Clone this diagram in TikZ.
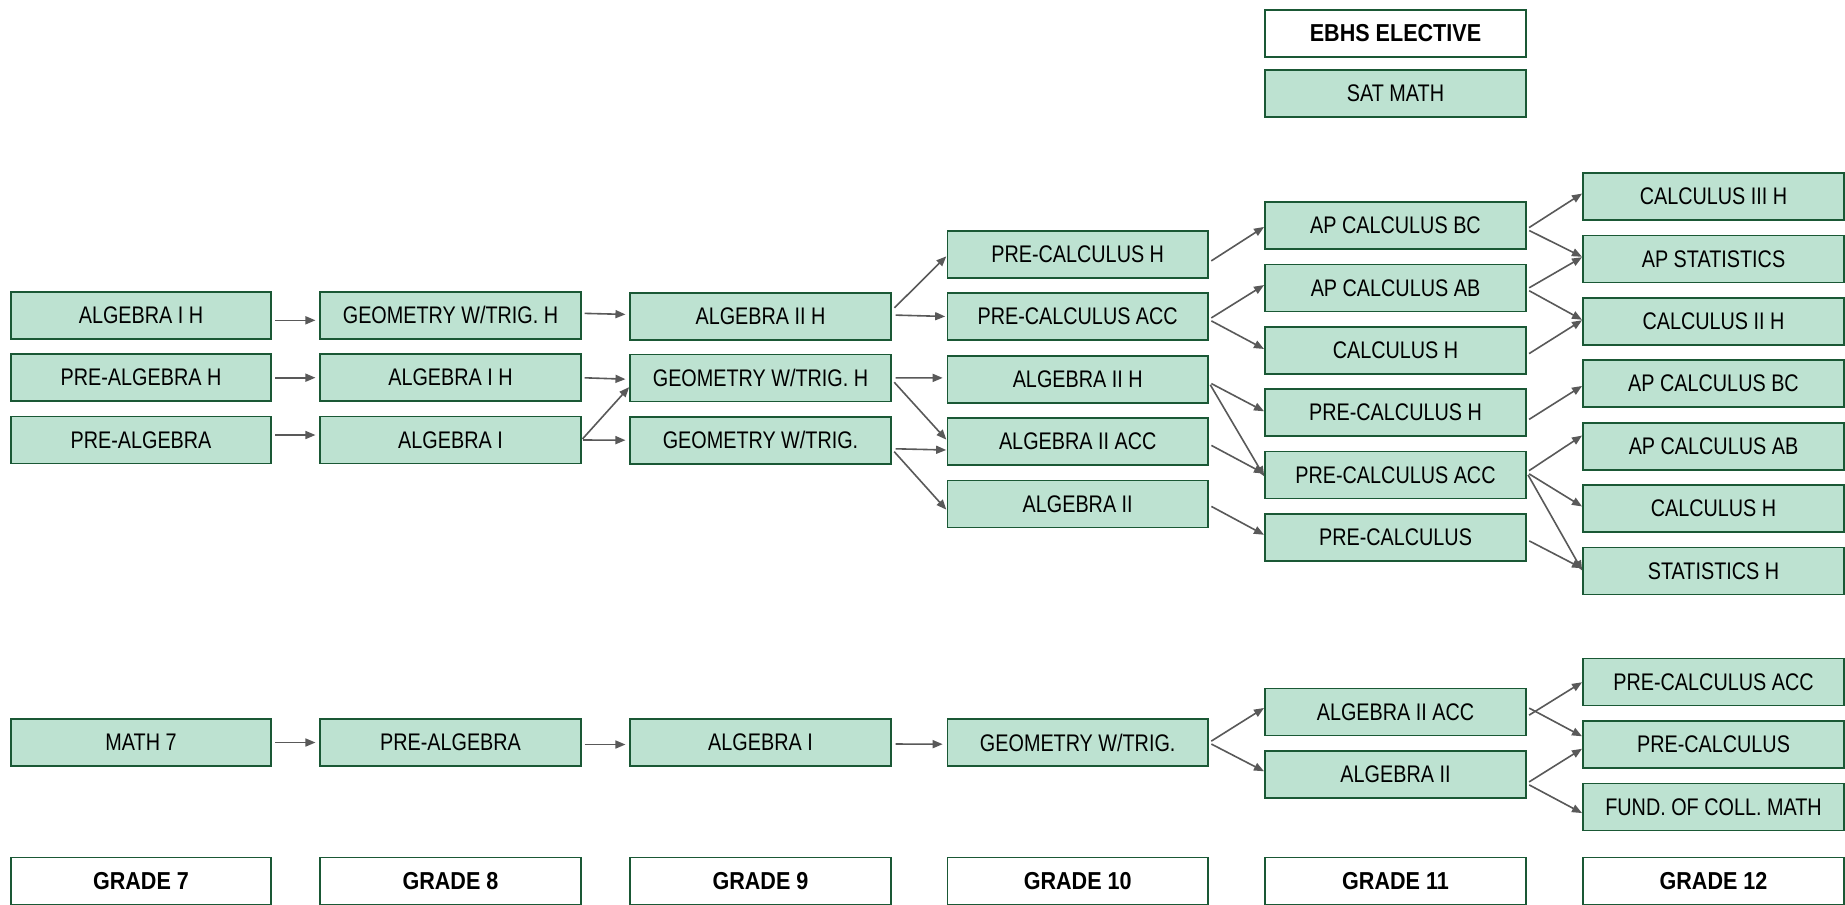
\documentclass[tikz,border=0pt]{standalone}
\usepackage{fontspec}
\usetikzlibrary{arrows.meta}
\newfontfamily\normfont{Liberation Sans}[FakeStretch=0.825]
\newfontfamily\headfont{Liberation Sans}[FakeStretch=0.88]
\definecolor{boxfill}{HTML}{BDE2D1}
\definecolor{bord}{HTML}{1A5835}
\definecolor{arrc}{HTML}{595959}
\tikzset{
  box/.style={draw=bord, fill=boxfill, line width=1.6pt, minimum width=260.5pt, minimum height=47pt, inner sep=0pt, text=black, font={\normfont\fontsize{24pt}{27pt}\selectfont}},
  headbox/.style={box, fill=white, font={\headfont\bfseries\fontsize{24.5pt}{27pt}\selectfont}},
  arr/.style={draw=arrc, line width=1.6pt, -{Triangle[length=10pt,width=8pt]}, shorten <=3pt, shorten >=0.5pt},
  harr/.style={arr, shorten >=4pt}
}
\begin{document}
\begin{tikzpicture}[x=1pt,y=1pt]
\useasboundingbox (0,0) rectangle (1845,-905);
\clip (0,0) rectangle (1845,-905);
\fill[white] (0,0) rectangle (1845,-905);
% header
\node[headbox] (eb) at (1395.5,-33.3) {EBHS ELECTIVE};
\node[box] (sat) at (1395.5,-93.3) {SAT MATH};
% column 1
\node[box] (a1) at (141,-315.3) {ALGEBRA I H};
\node[box] (a2) at (141,-377.7) {PRE-ALGEBRA H};
\node[box] (a3) at (141,-440) {PRE-ALGEBRA};
\node[box] (a4) at (141,-742.5) {MATH 7};
% column 2
\node[box] (b1) at (450.5,-315.3) {GEOMETRY W/TRIG. H};
\node[box] (b2) at (450.5,-377.7) {ALGEBRA I H};
\node[box] (b3) at (450.5,-440) {ALGEBRA I};
\node[box] (b4) at (450.5,-742.5) {PRE-ALGEBRA};
% column 3
\node[box] (c1) at (760.5,-316.5) {ALGEBRA II H};
\node[box] (c2) at (760.5,-377.8) {GEOMETRY W/TRIG. H};
\node[box] (c3) at (760.5,-440.2) {GEOMETRY W/TRIG.};
\node[box] (c4) at (760.5,-742.5) {ALGEBRA I};
% column 4
\node[box] (d1) at (1077.7,-254.5) {PRE-CALCULUS H};
\node[box] (d2) at (1077.7,-316.5) {PRE-CALCULUS ACC};
\node[box] (d3) at (1077.7,-379.2) {ALGEBRA II H};
\node[box] (d4) at (1077.7,-441.5) {ALGEBRA II ACC};
\node[box] (d5) at (1077.7,-504) {ALGEBRA II};
\node[box] (d6) at (1077.7,-742.7) {GEOMETRY W/TRIG.};
% column 5
\node[box] (e1) at (1395.5,-225.2) {AP CALCULUS BC};
\node[box] (e2) at (1395.5,-287.8) {AP CALCULUS AB};
\node[box] (e3) at (1395.5,-350.2) {CALCULUS H};
\node[box] (e4) at (1395.5,-412.5) {PRE-CALCULUS H};
\node[box] (e5) at (1395.5,-474.8) {PRE-CALCULUS ACC};
\node[box] (e6) at (1395.5,-537.5) {PRE-CALCULUS};
\node[box] (e7) at (1395.5,-712) {ALGEBRA II ACC};
\node[box] (e8) at (1395.5,-774.5) {ALGEBRA II};
% column 6
\node[box] (f1) at (1713.5,-196.3) {CALCULUS III H};
\node[box] (f2) at (1713.5,-259) {AP STATISTICS};
\node[box] (f3) at (1713.5,-321.5) {CALCULUS II H};
\node[box] (f4) at (1713.5,-383.7) {AP CALCULUS BC};
\node[box] (f5) at (1713.5,-446.3) {AP CALCULUS AB};
\node[box] (f6) at (1713.5,-508.7) {CALCULUS H};
\node[box] (f7) at (1713.5,-571) {STATISTICS H};
\node[box] (f8) at (1713.5,-682) {PRE-CALCULUS ACC};
\node[box] (f9) at (1713.5,-744.5) {PRE-CALCULUS};
\node[box] (f10) at (1713.5,-806.8) {FUND. OF COLL. MATH};
% grades
\node[headbox] (g7) at (141,-881) {GRADE 7};
\node[headbox] (g8) at (450.5,-881) {GRADE 8};
\node[headbox] (g9) at (760.5,-881) {GRADE 9};
\node[headbox] (g10) at (1077.7,-881) {GRADE 10};
\node[headbox] (g11) at (1395.5,-881) {GRADE 11};
\node[headbox] (g12) at (1713.5,-881) {GRADE 12};
% arrows col1 -> col2
\draw[harr] ([yshift=-5pt]a1.east) -- ([yshift=-5pt]b1.west);
\draw[harr] (a2.east) -- (b2.west);
\draw[harr] ([yshift=5pt]a3.east) -- ([yshift=5pt]b3.west);
% col2 -> col3
\draw[harr] ([yshift=2pt]b1.east) -- ([yshift=2pt]c1.west);
\draw[harr] (b2.east) -- ([yshift=-1.5pt]c2.west);
\draw[arr, shorten <=1.5pt] (b3.east) -- ([yshift=-9pt]c2.west);
\draw[harr, shorten <=1.5pt] (b3.east) -- (c3.west);
% col3 -> col4
\draw[arr, shorten <=4pt] ([yshift=5.8pt]c1.east) -- ([yshift=-1.5pt]d1.west);
\draw[arr, shorten <=4pt, shorten >=1.5pt] ([yshift=1.5pt]c1.east) -- (d2.west);
\draw[harr, shorten <=4pt] (c2.east) -- ([yshift=1.3pt]d3.west);
\draw[arr, shorten <=4pt] ([yshift=-1.5pt]c2.east) -- ([yshift=1.5pt]d4.west);
\draw[arr, shorten <=4pt] ([yshift=-8.5pt]c3.east) -- ([yshift=-8.5pt]d4.west);
\draw[arr, shorten <=4pt] ([yshift=-8.5pt]c3.east) -- ([yshift=-6pt]d5.west);
% col4 -> col5
\draw[arr] ([yshift=-8pt]d1.east) -- ([yshift=-1.5pt]e1.west);
\draw[arr] ([yshift=-3pt]d2.east) -- ([yshift=3pt]e2.west);
\draw[arr] ([yshift=-3pt]d2.east) -- ([yshift=1pt]e3.west);
\draw[arr] ([yshift=-3pt]d3.east) -- ([yshift=1pt]e4.west);
\draw[arr] ([yshift=-3pt]d3.east) -- ([yshift=-2pt]e5.west);
\draw[arr] ([yshift=-2.5pt]d4.east) -- ([yshift=1pt]e5.west);
\draw[arr] ([yshift=-1pt]d5.east) -- ([yshift=2.5pt]e6.west);
% col5 -> col6
\draw[arr] ([yshift=-4pt]e1.east) -- ([yshift=3pt]f1.west);
\draw[arr] ([yshift=-4pt]e1.east) -- ([yshift=2pt]f2.west);
\draw[arr] ([yshift=-1.5pt]e2.east) -- ([yshift=2pt]f2.west);
\draw[arr] ([yshift=-1.5pt]e2.east) -- ([yshift=1.5pt]f3.west);
\draw[arr] ([yshift=-5pt]e3.east) -- ([yshift=1.5pt]f3.west);
\draw[arr] ([yshift=-8.5pt]e4.east) -- ([yshift=-2pt]f4.west);
\draw[arr] ([yshift=2.5pt]e5.east) -- ([yshift=11pt]f5.west);
\draw[arr] ([yshift=2.5pt]e5.east) -- ([yshift=2pt]f6.west);
\draw[arr] ([yshift=2.5pt]e5.east) -- (f7.west);
\draw[arr] ([yshift=-2pt]e6.east) -- ([yshift=2.5pt]f7.west);
% bottom track
\draw[harr] (a4.east) -- (b4.west);
\draw[harr] ([yshift=-2pt]b4.east) -- ([yshift=-2pt]c4.west);
\draw[harr, shorten <=4pt] ([yshift=-1.5pt]c4.east) -- ([yshift=-1.5pt]d6.west);
\draw[arr] (d6.east) -- ([yshift=4.3pt]e7.west);
\draw[arr] (d6.east) -- ([yshift=3pt]e8.west);
\draw[arr] ([yshift=-4.7pt]e7.east) -- (f8.west);
\draw[arr] ([yshift=5.3pt]e7.east) -- ([yshift=8pt]f9.west);
\draw[arr] ([yshift=-9pt]e8.east) -- ([yshift=-4pt]f9.west);
\draw[arr] ([yshift=-9pt]e8.east) -- ([yshift=-6.5pt]f10.west);
\end{tikzpicture}
\end{document}
